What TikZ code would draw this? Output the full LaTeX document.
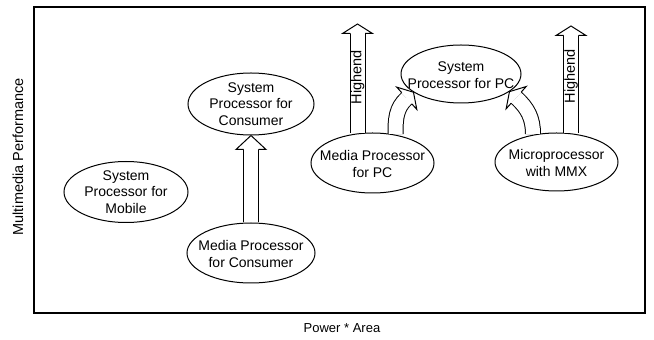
\documentclass[tikz,border=0pt]{standalone}
\usepackage{fontspec}
\setmainfont{Liberation Sans}
\usetikzlibrary{shapes.geometric,calc}

% hollow block arrow: [head length] start, leaving angle, tip, heading at the tip
\newcommand{\hollowarrow}[5][11pt]{%
  \pgfmathsetmacro\backang{#5+180}%
  \pgfmathsetmacro\leftang{#5+90}%
  \pgfmathsetmacro\rightang{#5-90}%
  \draw[shaft] (#2) to[out=#3,in=\backang] ($(#4)+(\backang:#1)$);
  \filldraw[fill=white,line width=1pt]
    ($(#4)+(\backang:#1)+(\leftang:7.5pt)$)
    -- ($(#4)+(\backang:#1)+(\leftang:15pt)$)
    -- (#4)
    -- ($(#4)+(\backang:#1)+(\rightang:15pt)$)
    -- ($(#4)+(\backang:#1)+(\rightang:7.5pt)$);
}

\begin{document}
\begin{tikzpicture}[x=1pt,y=1pt,
    blob/.style={ellipse, draw, line width=1pt, inner sep=0pt},
    label/.style={align=center, inner sep=0pt, font=\fontsize{14}{16.5}\selectfont},
    shaft/.style={double, double distance=14pt, line width=1pt},
    tag/.style={font=\fontsize{14.5}{16}\selectfont, inner sep=0pt}
  ]
  \useasboundingbox (0,0) rectangle (654,340);
  \draw[line width=1.1pt] (34,27) rectangle (645,333);

  % processors
  \node[blob, minimum width=124pt, minimum height=61pt] (mob) at (126,148) {};
  \node[blob, minimum width=126pt, minimum height=62pt] (scons) at (251,236) {};
  \node[blob, minimum width=128pt, minimum height=60pt] (mcons) at (251,87) {};
  \node[blob, minimum width=123pt, minimum height=60pt] (mpc) at (372.5,177) {};
  \node[blob, minimum width=120pt, minimum height=58pt] (spc) at (461,266) {};
  \node[blob, minimum width=123pt, minimum height=58pt] (mmx) at (556.5,178) {};

  \node[label] (mob-t) at (mob) {System\\Processor for\\Mobile};
  \node[label] (scons-t) at (scons) {System\\Processor for\\Consumer};
  \node[label] (mcons-t) at ([yshift=-1pt]mcons) {Media Processor\\for Consumer};
  \node[label] (mpc-t) at ([yshift=-1pt]mpc) {Media Processor\\for PC};
  \node[label] (spc-t) at ([yshift=-1pt]spc) {System\\Processor for PC};
  \node[label] (mmx-t) at ([yshift=-1pt]mmx) {Microprocessor\\with MMX};

  \coordinate (top1) at (357.5,316);
  \coordinate (top2) at (571,314);

  % arrows
  \hollowarrow[14pt]{mcons.north}{90}{scons.south}{90}
  \hollowarrow[9.5pt]{[xshift=-15pt,yshift=-0.5pt]mpc.north}{90}{top1}{90}
  \hollowarrow[9.5pt]{[xshift=14.5pt,yshift=-0.5pt]mmx.north}{90}{top2}{90}
  \hollowarrow[9pt]{[xshift=23pt,yshift=-1.5pt]mpc.north}{90}{spc.201}{42}
  \hollowarrow[9pt]{[xshift=-23.5pt,yshift=-1.5pt]mmx.north}{90}{spc.340}{138}

  \node[tag, rotate=90] (hi1) at (357.5,263) {Highend};
  \node[tag, rotate=90] (hi2) at (571,264) {Highend};

  % axes
  \node[tag, rotate=90] (yaxis) at (18,183) {Multimedia Performance};
  \node[tag, font=\fontsize{13}{15}\selectfont] (xaxis) at (342,12) {Power * Area};
\end{tikzpicture}
\end{document}
